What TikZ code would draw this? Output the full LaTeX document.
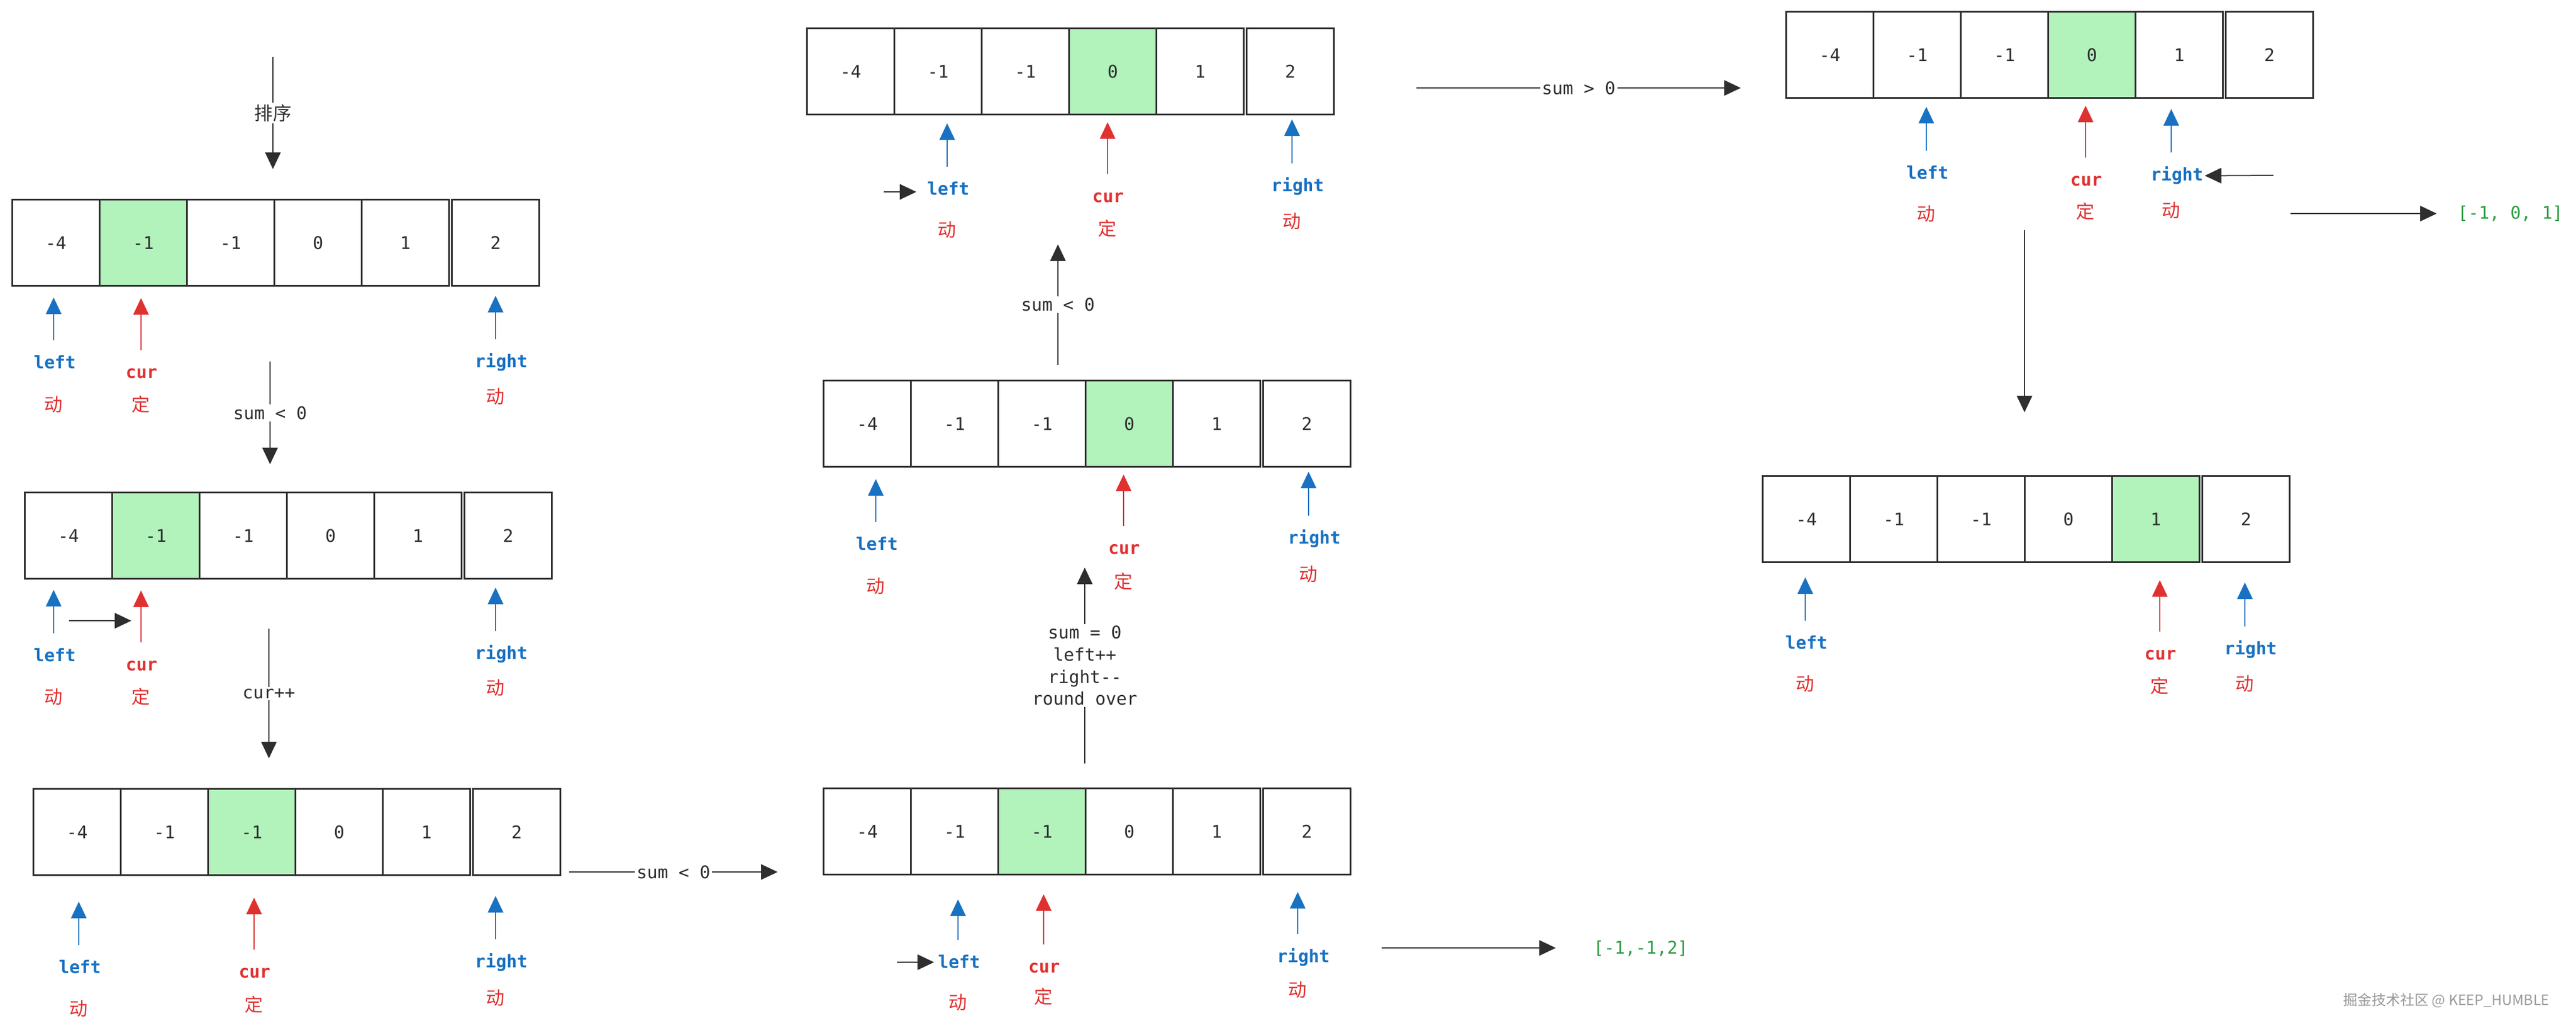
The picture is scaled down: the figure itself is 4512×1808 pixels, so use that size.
\documentclass[tikz,border=0pt]{standalone}
\usepackage{fontspec}
\setmonofont{DejaVu Sans Mono}
\newfontfamily\cjk{Noto Sans CJK SC}
\usetikzlibrary{arrows.meta}
\definecolor{ink}{HTML}{2E2E2E}
\definecolor{hotgreen}{HTML}{B2F2BB}
\definecolor{ptrblue}{HTML}{1971C2}
\definecolor{ptrred}{HTML}{E03131}
\definecolor{resgreen}{HTML}{2F9E44}
\tikzset{
  % array cells, the fixed element is filled green
  cell/.style={draw=ink,line width=0.03cm,minimum width=1.53cm,minimum height=1.51cm,inner sep=0pt,text=ink},
  hot/.style={cell,fill=hotgreen},
  % pointers under an array: label, arrow, and the tag below it
  % gebruik: \node[ptr=kleur] (p) at (..) {left};
  ptr/.style={text=#1,font=\ttfamily\bfseries\fontsize{8.7}{11}\selectfont,text height=0.23cm,text depth=0.07cm,inner xsep=0.02cm,inner ysep=0.25cm},
  ptrarr/.style={draw=#1,line width=0.02cm,-{Triangle[length=0.29cm,width=0.27cm]}},
  tag/.style={text=ptrred,font=\cjk\fontsize{9.2}{11}\selectfont},
  % connectors between the rounds
  flow/.style={draw=ink,line width=0.02cm,-{Triangle[length=0.29cm,width=0.27cm]}},
  flowlbl/.style={fill=white,inner sep=0.03cm,text=ink},
  res/.style={text=resgreen},
}
\begin{document}
\begin{tikzpicture}[x=0.01cm,y=-0.01cm,font=\ttfamily\fontsize{8.7}{11}\selectfont]
  \fill[white] (0,0) rectangle (4512,1808);
  \useasboundingbox (0,0) rectangle (4512,1808);
  % arrays: name/left/top/green cell
  \foreach \a/\ax/\ay/\g in {a1/20/348/2,a2/42/861/2,a3/57/1380/3,a4/1412/48/4,
      a5/1441/665/4,a6/1441/1379/3,a7/3127/19/4,a8/3086/832/5}{
    \foreach \v [count=\i] in {-4,-1,-1,0,1,2}{
      \ifnum\i=\g \def\kind{hot}\else\def\kind{cell}\fi
      \pgfmathsetmacro\cx{\ax+78+153*(\i-1)+5*(\i>5)}
      \node[\kind] (\a-\i) at (\cx,\ay+77) {\v};
    }
  }
  % pointers: name/x/tip/label x/label y/tag y/text/colour/tag
  \foreach \n/\px/\ty/\lx/\ly/\zy/\w/\col/\z in {
      a1l/94/521/96/637/708/left/ptrblue/动, a1c/247/522/248/654/708/cur/ptrred/定, a1r/868/518/878/635/694/right/ptrblue/动,
      a2l/94/1033/96/1150/1220/left/ptrblue/动, a2c/247/1034/248/1166/1220/cur/ptrred/定, a2r/868/1029/878/1146/1204/right/ptrblue/动,
      a3l/138/1579/140/1696/1766/left/ptrblue/动, a3c/445/1572/446/1704/1759/cur/ptrred/定, a3r/868/1569/878/1686/1747/right/ptrblue/动,
      a4l/1659/216/1661/333/402/left/ptrblue/动, a4c/1940/214/1941/346/400/cur/ptrred/定, a4r/2263/209/2273/327/387/right/ptrblue/动,
      a5l/1534/839/1536/955/1026/left/ptrblue/动, a5c/1968/831/1969/962/1018/cur/ptrred/定, a5r/2292/826/2302/944/1005/right/ptrblue/动,
      a6l/1678/1575/1680/1687/1755/left/ptrblue/动, a6c/1828/1566/1829/1695/1745/cur/ptrred/定, a6r/2273/1562/2283/1677/1733/right/ptrblue/动,
      a7l/3374/187/3376/305/374/left/ptrblue/动, a7c/3653/185/3654/317/370/cur/ptrred/定, a7r/3803/191/3813/308/368/right/ptrblue/动,
      a8l/3162/1011/3164/1128/1197/left/ptrblue/动, a8c/3783/1016/3784/1147/1201/cur/ptrred/定, a8r/3932/1020/3942/1138/1197/right/ptrblue/动}{
    \coordinate (t\n) at (\px,\ty);
    \node[ptr=\col] (\n) at (\lx,\ly) {\w};
    \node[tag] (z\n) at (\px,\zy) {\z};
    \draw[ptrarr=\col] (t\n |- \n.north) -- (t\n);
  }
  % rounds
  \coordinate (s0) at (478,100);   \coordinate (s0t) at (478,296);
  \coordinate (f1) at (473,633);   \coordinate (f1t) at (473,813);
  \coordinate (f2) at (471,1101);  \coordinate (f2t) at (471,1328);
  \coordinate (f3) at (997,1527);  \coordinate (f3t) at (1362,1527);
  \coordinate (f4) at (1900,1337); \coordinate (f4t) at (1900,994);
  \coordinate (f5) at (1853,639);  \coordinate (f5t) at (1853,428);
  \coordinate (f6) at (2481,154);  \coordinate (f6t) at (3049,154);
  \coordinate (f7) at (3546,403);  \coordinate (f7t) at (3546,722);
  \draw[flow] (s0) -- node[flowlbl,font=\cjk\fontsize{9.2}{11}\selectfont] (sortlbl) {排序} (s0t);
  \draw[flow] (f1) -- node[flowlbl] (f1lbl) {sum < 0} (f1t);
  \draw[flow] (f2) -- node[flowlbl] (f2lbl) {cur++} (f2t);
  \draw[flow] (f3) -- node[flowlbl] (f3lbl) {sum < 0} (f3t);
  \draw[flow] (f4) -- node[flowlbl,align=center] (f4lbl) {sum = 0\\left++\\right-{}-\\round over} (f4t);
  \draw[flow] (f5) -- node[flowlbl] (f5lbl) {sum < 0} (f5t);
  \draw[flow] (f6) -- node[flowlbl] (f6lbl) {sum > 0} (f6t);
  \draw[flow] (f7) -- (f7t);
  % moves of left / right
  \coordinate (m1) at (121,1087);  \coordinate (m1t) at (230,1087);
  \coordinate (m2) at (1548,336);  \coordinate (m2t) at (1605,336);
  \coordinate (m3) at (1571,1685); \coordinate (m3t) at (1636,1685);
  \coordinate (m4) at (3982,307);
  \draw[flow] (m1) -- (m1t);
  \draw[flow] (m2) -- (m2t);
  \draw[flow] (m3) -- (m3t);
  \draw[flow] (m4) -- (a7r);
  % results
  \coordinate (r1) at (2420,1660); \coordinate (r1t) at (2725,1660);
  \coordinate (r2) at (4012,374);  \coordinate (r2t) at (4268,374);
  \node[res] (res1) at (2874,1661) {[-1,-1,2]};
  \node[res] (res2) at (4397,374) {[-1, 0, 1]};
  \draw[flow] (r1) -- (r1t);
  \draw[flow] (r2) -- (r2t);
  \node[text=black!40,font=\cjk\fontsize{7.1}{9}\selectfont] (mark) at (4285,1752) {掘金技术社区 @ KEEP\_HUMBLE};
\end{tikzpicture}
\end{document}
